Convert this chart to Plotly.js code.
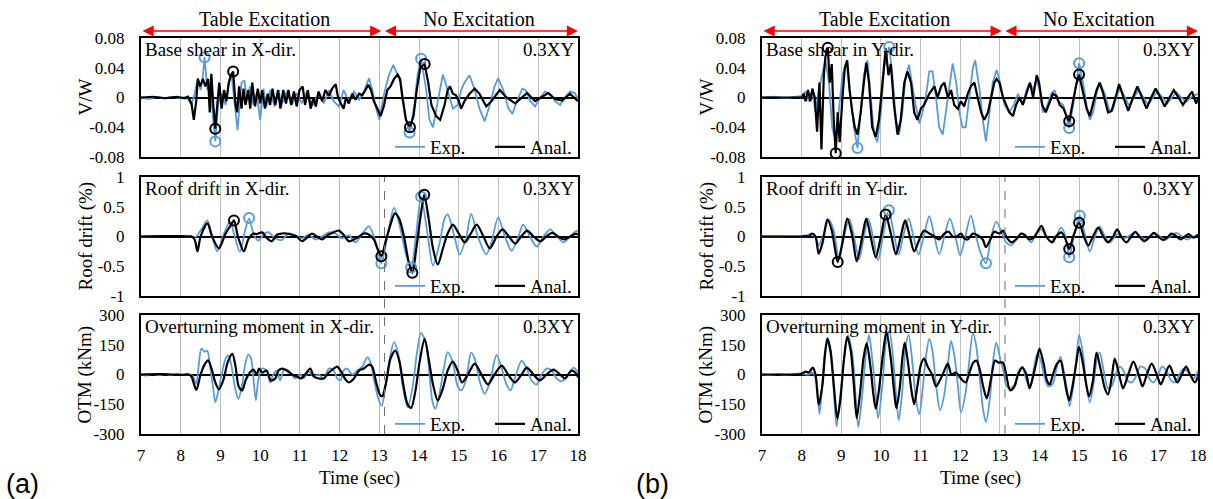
<!DOCTYPE html>
<html><head><meta charset="utf-8">
<script src="https://cdn.plot.ly/plotly-3.0.1.min.js"></script>
<style>html,body{margin:0;padding:0;background:#fff}#chart{width:1213px;height:499px}</style>
</head><body><div id="chart"></div><script>
// ---------- data (time [s], value) ----------
const timeTicks = [7,8,9,10,11,12,13,14,15,16,17,18];
const shearTicks = [-0.08,-0.04,0,0.04,0.08];
const shearTickText = ['-0.08','-0.04','0','0.04','0.08'];
const driftTicks = [-1,-0.5,0,0.5,1];
const driftTickText = ['-1','-0.5','0','0.5','1'];
const otmTicks = [-300,-150,0,150,300];
const otmTickText = ['-300','-150','0','150','300'];
const seriesNames = ['Exp.','Anal.'];

// (a) X-direction
const bsX_exp = [[7.0,0],[7.2,-0.002],[7.4,0.001],[7.6,-0.001],[7.8,0.001],[8.0,-0.001],[8.15,0.001],[8.27,-0.01],[8.35,0.005],[8.43,0.026],[8.5,0.01],[8.56,0.03],[8.6,0.054],[8.67,0.01],[8.73,0.02],[8.81,-0.02],[8.87,-0.059],[8.94,-0.01],[9.03,0.005],[9.13,-0.01],[9.21,0.02],[9.28,0.03],[9.36,-0.01],[9.43,-0.044],[9.53,0.02],[9.6,0.023],[9.68,-0.005],[9.74,0.015],[9.83,-0.01],[9.91,0.005],[10.0,-0.03],[10.08,0.012],[10.16,-0.012],[10.25,0.01],[10.36,-0.012],[10.46,0.01],[10.54,-0.01],[10.67,0.008],[10.8,-0.01],[10.92,0.006],[11.05,-0.008],[11.18,0.008],[11.3,-0.012],[11.47,0.005],[11.6,-0.008],[11.73,0.01],[11.85,-0.005],[11.98,-0.012],[12.1,0.01],[12.23,-0.005],[12.36,0.008],[12.49,-0.003],[12.61,0.008],[12.74,0.026],[12.82,0.01],[12.92,-0.015],[13.0,-0.03],[13.12,0.005],[13.24,0.03],[13.35,0.044],[13.46,0.03],[13.54,0.02],[13.67,-0.03],[13.76,-0.047],[13.88,-0.01],[13.96,0.03],[14.05,0.052],[14.18,0.01],[14.26,-0.03],[14.35,-0.04],[14.47,-0.005],[14.6,0.031],[14.72,0.01],[14.85,-0.015],[14.97,-0.01],[15.06,0.01],[15.14,0.02],[15.27,0.03],[15.4,0.01],[15.52,-0.015],[15.65,-0.032],[15.78,-0.01],[15.9,0.015],[15.99,0.026],[16.12,0.01],[16.25,-0.015],[16.35,-0.022],[16.46,-0.005],[16.6,0.012],[16.68,0.01],[16.8,-0.005],[16.92,-0.012],[17.05,0],[17.17,0.008],[17.3,0.005],[17.42,-0.005],[17.55,-0.01],[17.67,0],[17.8,0.008],[17.92,0.006],[18.0,-0.002]];
const bsX_anl = [[7.0,0],[7.3,0.001],[7.6,-0.001],[7.9,0.001],[8.1,-0.001],[8.18,0.001],[8.27,-0.008],[8.33,-0.03],[8.39,-0.005],[8.43,0.025],[8.49,0.015],[8.56,0.025],[8.62,0.015],[8.69,0.025],[8.73,-0.02],[8.77,0.032],[8.82,-0.01],[8.87,-0.042],[8.92,-0.01],[8.97,0.02],[9.03,-0.015],[9.09,0.01],[9.15,-0.005],[9.21,0.02],[9.26,0.03],[9.32,0.035],[9.38,-0.01],[9.42,-0.02],[9.47,0.015],[9.53,-0.015],[9.58,0.012],[9.63,-0.01],[9.7,0.01],[9.75,-0.015],[9.8,0.02],[9.87,-0.012],[9.94,0.012],[10.0,-0.008],[10.05,0.01],[10.12,-0.015],[10.19,0.005],[10.25,-0.01],[10.31,0.012],[10.38,-0.01],[10.45,0.01],[10.51,-0.015],[10.58,0.01],[10.65,-0.008],[10.71,0.01],[10.78,-0.01],[10.85,0.008],[10.92,-0.012],[10.99,0.01],[11.07,0.015],[11.13,-0.01],[11.2,0.01],[11.27,-0.015],[11.34,0],[11.4,-0.012],[11.47,0.008],[11.56,-0.005],[11.64,0.01],[11.73,0.002],[11.81,0.012],[11.9,0.018],[11.96,0],[12.03,-0.008],[12.1,-0.015],[12.16,0],[12.23,-0.008],[12.32,0.005],[12.4,-0.003],[12.49,0.005],[12.57,0.003],[12.65,0.01],[12.72,0.017],[12.79,0.01],[12.86,-0.005],[12.95,-0.015],[13.03,-0.025],[13.11,-0.012],[13.2,0.01],[13.28,0.015],[13.37,0.025],[13.46,0.031],[13.52,0.025],[13.58,0],[13.67,-0.03],[13.77,-0.04],[13.86,-0.025],[13.94,0.01],[14.03,0.04],[14.14,0.045],[14.23,0.02],[14.31,-0.01],[14.43,-0.025],[14.53,-0.03],[14.64,-0.01],[14.72,0.01],[14.78,0.015],[14.85,0.005],[14.93,0.003],[15.0,-0.005],[15.06,-0.015],[15.14,-0.005],[15.27,0.005],[15.4,0.012],[15.52,0.005],[15.69,-0.012],[15.82,-0.005],[16.03,0.01],[16.2,0],[16.42,-0.008],[16.55,-0.002],[16.72,0.006],[16.92,-0.005],[17.08,0],[17.25,0.006],[17.42,-0.002],[17.6,-0.004],[17.8,0.005],[17.97,-0.003],[18.0,-0.005]];
const bsX_expPeaks = [[8.6,0.054],[8.87,-0.059],[13.76,-0.047],[14.05,0.052]];
const bsX_anlPeaks = [[8.87,-0.042],[9.32,0.035],[13.77,-0.04],[14.14,0.045]];

const rdX_exp = [[7.0,0],[7.5,0.005],[8.0,0.005],[8.25,0],[8.39,0],[8.52,0.12],[8.67,0.27],[8.79,0],[8.92,-0.25],[9.09,0.05],[9.24,0.25],[9.36,0],[9.49,-0.26],[9.62,0.1],[9.72,0.3],[9.83,0.05],[9.95,-0.07],[10.11,0.05],[10.22,0.07],[10.36,-0.02],[10.54,-0.06],[10.71,0.05],[10.88,0.02],[11.05,-0.03],[11.22,0.03],[11.39,-0.05],[11.56,0],[11.73,0.07],[11.89,0.05],[12.06,-0.03],[12.23,0.02],[12.4,-0.1],[12.57,0.05],[12.74,0.17],[12.91,-0.1],[13.05,-0.45],[13.2,0],[13.37,0.48],[13.54,0.1],[13.67,-0.3],[13.8,-0.52],[13.92,0],[14.05,0.67],[14.2,0.1],[14.35,-0.49],[14.52,-0.1],[14.64,0.3],[14.72,0.37],[14.89,0],[15.02,-0.3],[15.19,0],[15.31,0.38],[15.48,0],[15.69,-0.3],[15.82,-0.1],[15.99,0.32],[16.16,0],[16.33,-0.24],[16.5,0],[16.62,0.2],[16.79,0],[16.96,-0.17],[17.13,0],[17.3,0.12],[17.47,0],[17.64,-0.1],[17.8,0],[17.97,0.1],[18.0,0.08]];
const rdX_anl = [[7.0,0],[7.5,0.005],[8.0,0.005],[8.2,0],[8.27,0],[8.35,-0.05],[8.42,-0.25],[8.5,0],[8.67,0.22],[8.79,0],[8.96,-0.2],[9.13,0.05],[9.27,0.2],[9.34,0.27],[9.44,0],[9.59,-0.25],[9.7,-0.05],[9.83,0.05],[9.91,0.04],[10.05,0.07],[10.16,-0.02],[10.29,-0.08],[10.42,0.03],[10.54,0.05],[10.67,0.05],[10.8,0.03],[10.92,0],[11.05,-0.08],[11.18,-0.02],[11.3,0.05],[11.43,0],[11.56,-0.05],[11.69,0.02],[11.81,0.06],[11.98,0.1],[12.11,0.02],[12.23,-0.08],[12.36,-0.05],[12.49,0],[12.61,0.05],[12.74,0.03],[12.86,-0.05],[12.95,-0.2],[13.05,-0.33],[13.15,-0.1],[13.28,0.2],[13.39,0.39],[13.5,0.3],[13.62,0],[13.73,-0.4],[13.83,-0.61],[13.93,-0.2],[14.05,0.4],[14.13,0.7],[14.24,0.3],[14.35,-0.2],[14.47,-0.47],[14.6,-0.2],[14.72,0.05],[14.85,0.2],[15.0,0.05],[15.15,-0.1],[15.3,0.05],[15.45,0.2],[15.62,0],[15.78,-0.2],[15.95,0],[16.1,0.12],[16.26,0],[16.42,-0.12],[16.57,0],[16.72,0.1],[16.88,0],[17.05,-0.08],[17.2,0],[17.35,0.06],[17.5,0],[17.65,-0.05],[17.8,0],[17.95,0.05],[18.0,0.03]];
const rdX_expPeaks = [[9.72,0.31],[13.05,-0.45],[13.8,-0.52],[14.05,0.67]];
const rdX_anlPeaks = [[9.34,0.27],[13.05,-0.33],[13.83,-0.61],[14.13,0.7]];

const otmX_exp = [[7.0,0],[7.15,-5],[7.3,3],[7.45,-4],[7.6,2],[7.75,-3],[7.9,4],[8.05,-2],[8.2,0],[8.31,-10],[8.39,-47],[8.45,40],[8.52,130],[8.6,115],[8.67,120],[8.73,50],[8.81,-60],[8.87,-140],[8.94,-90],[9.03,0],[9.13,80],[9.2,96],[9.28,40],[9.36,-60],[9.45,-123],[9.53,-70],[9.62,50],[9.7,100],[9.77,80],[9.83,-20],[9.89,-130],[9.95,-30],[10.04,30],[10.16,20],[10.25,-40],[10.33,0],[10.42,20],[10.5,-30],[10.59,20],[10.67,25],[10.76,10],[10.88,-20],[11.01,0],[11.09,-20],[11.22,15],[11.35,-10],[11.47,0],[11.6,-20],[11.73,30],[11.85,20],[11.94,-20],[12.02,-30],[12.1,20],[12.19,30],[12.32,0],[12.44,20],[12.57,40],[12.7,88],[12.78,60],[12.86,-20],[12.97,-120],[13.06,-157],[13.16,-50],[13.26,80],[13.37,163],[13.48,100],[13.58,-50],[13.71,-165],[13.84,-60],[13.94,100],[14.05,210],[14.18,150],[14.26,0],[14.34,-140],[14.41,-173],[14.51,-100],[14.64,50],[14.72,113],[14.85,60],[14.97,-60],[15.06,-80],[15.18,-30],[15.31,110],[15.4,80],[15.52,-30],[15.65,-98],[15.78,-40],[15.95,99],[16.08,30],[16.2,-50],[16.3,-80],[16.41,-20],[16.58,70],[16.71,30],[16.83,-30],[16.96,-50],[17.08,0],[17.21,30],[17.34,20],[17.46,-20],[17.59,-35],[17.76,0],[17.89,35],[18.0,10]];
const otmX_anl = [[7.0,0],[7.5,2],[8.0,-2],[8.2,0],[8.27,-10],[8.39,-78],[8.5,0],[8.6,50],[8.69,71],[8.79,20],[8.87,-40],[8.96,-75],[9.07,-30],[9.18,60],[9.3,104],[9.38,40],[9.46,-60],[9.55,-80],[9.63,-30],[9.74,10],[9.83,25],[9.91,0],[9.97,30],[10.05,10],[10.16,20],[10.27,-30],[10.38,-20],[10.46,20],[10.56,30],[10.67,20],[10.8,0],[10.92,-10],[11.03,-20],[11.13,0],[11.26,30],[11.35,-10],[11.47,-20],[11.6,-20],[11.73,10],[11.85,30],[11.94,40],[12.02,20],[12.13,-20],[12.23,-40],[12.36,-20],[12.49,20],[12.61,30],[12.74,50],[12.82,40],[12.92,-40],[13.01,-100],[13.07,-110],[13.17,-40],[13.28,80],[13.4,121],[13.5,70],[13.61,-60],[13.71,-150],[13.8,-168],[13.91,-80],[14.01,60],[14.14,180],[14.24,80],[14.35,-50],[14.47,-131],[14.6,-70],[14.72,20],[14.85,65],[14.97,20],[15.08,-40],[15.23,0],[15.4,55],[15.57,0],[15.73,-50],[15.9,0],[16.08,45],[16.24,0],[16.41,-40],[16.58,0],[16.71,35],[16.88,0],[17.04,-30],[17.21,0],[17.38,25],[17.55,0],[17.67,-20],[17.84,20],[17.97,0],[18.0,-15]];

// (b) Y-direction
const bsY_exp = [[7.0,0],[7.3,0.001],[7.6,-0.001],[7.9,0.001],[8.01,0.002],[8.1,0.008],[8.18,-0.005],[8.27,0.01],[8.35,-0.02],[8.43,0.01],[8.52,0.03],[8.6,0.05],[8.69,0.02],[8.77,-0.04],[8.86,-0.06],[8.94,-0.02],[9.03,0.03],[9.13,0.048],[9.24,0],[9.32,-0.04],[9.41,-0.068],[9.49,-0.02],[9.57,0.03],[9.66,0.05],[9.74,0],[9.83,-0.05],[9.91,-0.06],[10.0,-0.02],[10.08,0.04],[10.21,0.068],[10.29,0.03],[10.38,-0.03],[10.46,-0.05],[10.54,-0.02],[10.63,0.03],[10.71,0.044],[10.84,0],[10.97,-0.035],[11.05,-0.02],[11.13,0],[11.22,0.035],[11.3,0.035],[11.39,0],[11.47,-0.04],[11.56,-0.05],[11.64,-0.02],[11.73,0.02],[11.81,0.046],[11.9,0.02],[11.98,-0.02],[12.06,-0.04],[12.14,-0.04],[12.23,0],[12.32,0.04],[12.38,0.05],[12.49,0.01],[12.57,-0.03],[12.65,-0.059],[12.74,-0.02],[12.82,0.02],[12.92,0.037],[13.01,0.02],[13.12,-0.01],[13.24,-0.02],[13.35,-0.01],[13.46,0.005],[13.58,-0.01],[13.67,0.01],[13.76,0.02],[13.84,0.01],[13.93,0.025],[14.0,0.01],[14.09,-0.02],[14.17,-0.015],[14.3,0.005],[14.38,0.01],[14.47,-0.005],[14.6,-0.01],[14.68,-0.025],[14.75,-0.041],[14.85,-0.01],[14.93,0.02],[15.0,0.046],[15.1,0.02],[15.19,-0.01],[15.27,-0.03],[15.35,-0.02],[15.44,0.005],[15.52,0.02],[15.65,0.005],[15.78,-0.02],[15.86,-0.015],[15.96,0.005],[16.05,0.012],[16.16,0],[16.27,-0.012],[16.38,0],[16.5,0.01],[16.62,0],[16.74,-0.01],[16.86,0],[16.98,0.008],[17.1,0],[17.22,-0.008],[17.34,0],[17.46,0.007],[17.58,0],[17.7,-0.006],[17.82,0],[17.94,0.004],[18.0,0.005]];
const bsY_anl = [[7.0,0],[7.5,0],[8.01,0],[8.05,0.005],[8.1,-0.005],[8.16,0.01],[8.22,-0.005],[8.27,0.012],[8.33,0],[8.39,-0.046],[8.45,0.02],[8.5,-0.07],[8.56,0.03],[8.6,0.055],[8.66,0.067],[8.71,0.02],[8.76,0.045],[8.81,-0.03],[8.86,-0.075],[8.91,-0.02],[8.96,-0.06],[9.03,0],[9.09,0.04],[9.15,0.05],[9.21,0.01],[9.28,-0.02],[9.34,-0.04],[9.41,-0.05],[9.49,-0.02],[9.57,0.02],[9.63,0.047],[9.7,0.02],[9.78,-0.04],[9.87,-0.053],[9.95,-0.03],[10.04,0.02],[10.12,0.066],[10.19,0.03],[10.25,0.045],[10.33,-0.01],[10.42,-0.05],[10.5,-0.03],[10.59,0.02],[10.67,0.035],[10.76,0.02],[10.84,-0.02],[10.92,-0.03],[11.01,-0.015],[11.09,-0.01],[11.22,0.005],[11.35,0.015],[11.43,0],[11.52,0.015],[11.6,0.02],[11.69,0],[11.77,0.01],[11.85,-0.01],[11.94,-0.015],[12.02,-0.005],[12.1,-0.012],[12.19,0.005],[12.27,0.015],[12.36,0.02],[12.44,0],[12.53,-0.02],[12.61,-0.03],[12.7,-0.02],[12.78,0],[12.86,0.02],[12.92,0.025],[12.99,0.02],[13.08,0],[13.16,-0.01],[13.24,-0.02],[13.33,-0.025],[13.41,-0.01],[13.5,0],[13.58,-0.01],[13.67,0.005],[13.76,0.02],[13.84,0],[13.93,0.03],[13.99,0.02],[14.07,-0.01],[14.16,-0.02],[14.26,-0.005],[14.34,0.005],[14.43,0.002],[14.51,-0.01],[14.61,-0.015],[14.68,-0.025],[14.75,-0.032],[14.83,-0.01],[14.92,0.015],[15.0,0.031],[15.08,0.01],[15.19,-0.015],[15.27,-0.025],[15.35,-0.01],[15.44,0.01],[15.52,0.02],[15.61,0.005],[15.73,-0.02],[15.82,-0.018],[15.92,0],[16.01,0.018],[16.12,0],[16.24,-0.018],[16.36,0],[16.47,0.015],[16.59,0],[16.7,-0.015],[16.82,0],[16.93,0.012],[17.05,0],[17.16,-0.012],[17.28,0],[17.39,0.01],[17.51,0],[17.62,-0.01],[17.74,0],[17.85,0.008],[17.95,-0.008],[18.0,-0.002]];
const bsY_expPeaks = [[9.41,-0.068],[10.21,0.068],[14.75,-0.041],[15.0,0.046]];
const bsY_anlPeaks = [[8.66,0.067],[8.86,-0.075],[14.75,-0.032],[15.0,0.031]];

const rdY_exp = [[7.0,0],[7.5,0],[8.0,0],[8.1,0.01],[8.27,0.05],[8.37,-0.05],[8.43,-0.15],[8.56,0.05],[8.69,0.28],[8.81,0.1],[8.94,-0.38],[9.07,0],[9.2,0.3],[9.32,0],[9.45,-0.38],[9.57,0],[9.68,0.3],[9.8,0],[9.93,-0.4],[10.05,0],[10.2,0.44],[10.31,0.1],[10.45,-0.3],[10.56,0],[10.7,0.3],[10.82,0],[10.95,-0.3],[11.08,0],[11.22,0.34],[11.35,0],[11.47,-0.3],[11.6,0],[11.74,0.3],[11.88,0],[12.0,-0.32],[12.13,0],[12.27,0.35],[12.4,0],[12.53,-0.3],[12.65,-0.45],[12.78,0],[12.91,0.25],[13.03,0.1],[13.16,-0.1],[13.29,-0.15],[13.41,-0.05],[13.54,0.05],[13.67,0],[13.79,-0.1],[13.92,0.05],[14.05,0.12],[14.17,0],[14.3,-0.08],[14.43,0.02],[14.55,0.15],[14.66,0],[14.75,-0.35],[14.87,0],[15.02,0.35],[15.14,0.05],[15.27,-0.25],[15.4,0],[15.52,0.17],[15.65,0],[15.78,-0.1],[15.9,0],[15.99,0.05],[16.12,-0.03],[16.24,0],[16.41,0.07],[16.54,0],[16.67,-0.05],[16.79,0],[16.92,0.06],[17.04,0],[17.17,-0.06],[17.29,0],[17.46,0.06],[17.59,0],[17.72,-0.05],[17.89,0],[18.0,0.03]];
const rdY_anl = [[7.0,0],[7.5,0],[8.01,0],[8.1,0.01],[8.18,0],[8.27,0.05],[8.35,0],[8.43,-0.29],[8.53,-0.1],[8.65,0.29],[8.76,0.1],[8.84,-0.2],[8.91,-0.43],[9.03,-0.1],[9.15,0.3],[9.28,0],[9.39,-0.42],[9.53,0],[9.63,0.3],[9.74,0],[9.87,-0.35],[10.0,0],[10.12,0.37],[10.25,0.05],[10.38,-0.3],[10.5,0],[10.61,0.27],[10.73,0],[10.84,-0.25],[10.97,-0.05],[11.09,0.1],[11.22,0.05],[11.35,0],[11.47,-0.05],[11.6,0.05],[11.71,0.08],[11.81,0],[11.91,0],[12.02,0.05],[12.1,-0.03],[12.19,-0.05],[12.32,0.05],[12.44,0.02],[12.57,-0.05],[12.65,-0.18],[12.76,-0.05],[12.86,0.08],[12.99,0.05],[13.08,0.1],[13.16,0],[13.29,-0.1],[13.41,-0.05],[13.54,0.05],[13.62,0.03],[13.75,-0.05],[13.88,0],[14.05,0.18],[14.17,0],[14.32,-0.1],[14.42,0],[14.55,0.07],[14.66,-0.05],[14.75,-0.21],[14.85,0],[15.0,0.23],[15.12,0],[15.23,-0.15],[15.35,0],[15.48,0.15],[15.61,0],[15.73,-0.1],[15.86,0],[15.96,0.12],[16.06,0],[16.19,-0.1],[16.32,0],[16.42,0.08],[16.52,0],[16.65,-0.08],[16.79,0],[16.88,0.06],[16.99,0],[17.12,-0.06],[17.25,0],[17.33,0.05],[17.46,0],[17.56,-0.05],[17.67,0],[17.76,0.04],[17.89,-0.02],[18.0,0.03]];
const rdY_expPeaks = [[10.2,0.44],[12.65,-0.45],[14.75,-0.35],[15.02,0.35]];
const rdY_anlPeaks = [[8.91,-0.43],[10.12,0.37],[14.75,-0.21],[15.0,0.23]];

const otmY_exp = [[7.0,0],[7.2,-3],[7.4,2],[7.6,-3],[7.8,2],[8.01,5],[8.18,0],[8.27,10],[8.37,-30],[8.45,-200],[8.52,-50],[8.59,120],[8.65,160],[8.73,100],[8.81,-80],[8.88,-262],[8.98,-100],[9.07,80],[9.17,197],[9.28,100],[9.36,-100],[9.43,-265],[9.53,-100],[9.62,100],[9.7,200],[9.78,80],[9.87,-100],[9.93,-220],[10.04,-50],[10.12,150],[10.21,220],[10.29,120],[10.38,-100],[10.45,-230],[10.54,-80],[10.63,150],[10.7,200],[10.8,50],[10.88,-120],[10.97,-200],[11.05,-80],[11.13,80],[11.22,180],[11.3,120],[11.39,-50],[11.49,-180],[11.6,-100],[11.69,50],[11.77,170],[11.85,100],[11.94,-50],[12.02,-190],[12.13,-100],[12.22,50],[12.32,210],[12.4,150],[12.5,-30],[12.58,-180],[12.65,-240],[12.76,-100],[12.82,50],[12.91,160],[13.01,80],[13.1,10],[13.17,-60],[13.26,-70],[13.37,-50],[13.48,20],[13.57,40],[13.67,-30],[13.77,-60],[13.85,20],[13.94,100],[14.02,80],[14.11,0],[14.22,-60],[14.33,-50],[14.43,30],[14.53,90],[14.61,20],[14.7,-80],[14.76,-160],[14.86,-50],[14.93,80],[15.0,200],[15.1,100],[15.18,-50],[15.27,-140],[15.37,-40],[15.45,80],[15.52,110],[15.62,20],[15.73,-70],[15.82,-60],[15.94,10],[16.03,40],[16.12,20],[16.22,-30],[16.33,-40],[16.46,0],[16.54,40],[16.67,30],[16.77,-20],[16.88,-40],[17.0,0],[17.09,40],[17.2,20],[17.32,-30],[17.42,-40],[17.53,0],[17.63,30],[17.76,10],[17.89,-20],[18.0,20]];
const otmY_anl = [[7.0,0],[7.5,0],[7.93,0],[8.01,5],[8.1,15],[8.18,10],[8.28,35],[8.35,0],[8.43,-152],[8.52,-60],[8.59,100],[8.65,182],[8.73,120],[8.81,-50],[8.9,-222],[8.98,-120],[9.07,80],[9.15,190],[9.24,120],[9.32,-60],[9.39,-220],[9.47,-100],[9.56,80],[9.64,157],[9.73,50],[9.81,-100],[9.87,-172],[9.95,-80],[10.05,100],[10.14,216],[10.25,80],[10.33,-80],[10.39,-170],[10.48,-60],[10.54,80],[10.6,160],[10.69,50],[10.77,-80],[10.84,-150],[10.92,-60],[11.01,50],[11.09,80],[11.18,40],[11.29,0],[11.39,-60],[11.51,-20],[11.6,20],[11.69,55],[11.78,0],[11.89,10],[11.98,-10],[12.06,-30],[12.14,-40],[12.25,20],[12.33,60],[12.41,70],[12.5,20],[12.58,-60],[12.67,-120],[12.78,-20],[12.88,70],[12.97,60],[13.08,60],[13.16,0],[13.26,-80],[13.37,-60],[13.46,0],[13.57,35],[13.67,0],[13.75,-70],[13.85,0],[13.92,60],[14.0,130],[14.11,50],[14.19,-30],[14.26,-50],[14.34,0],[14.43,50],[14.53,70],[14.61,0],[14.68,-80],[14.75,-130],[14.85,-40],[14.93,60],[15.0,140],[15.1,50],[15.18,-50],[15.25,-110],[15.35,-30],[15.44,110],[15.54,30],[15.65,-70],[15.73,-100],[15.82,-20],[15.9,80],[16.01,0],[16.11,-70],[16.24,0],[16.37,65],[16.5,0],[16.6,-60],[16.71,0],[16.83,55],[16.96,0],[17.06,-50],[17.17,0],[17.28,45],[17.38,0],[17.48,-40],[17.59,0],[17.7,40],[17.8,0],[17.92,-40],[18.0,-10]];

// ---------- build ----------
const BLUE = '#5B9BD5', BLACK = '#000000';
const SERIF = 'Liberation Serif, Times New Roman, serif';
const W = 1213, H = 499;
const colX = [[141/W, 578/W], [762/W, 1198/W]];
const rowY = [[1-157/H, 1-38/H], [1-296/H, 1-177/H], [1-434/H, 1-315/H]];

const panels = [
  {exp: bsX_exp, anl: bsX_anl, ep: bsX_expPeaks, ap: bsX_anlPeaks, col:0, row:0, shape:'linear', range:[-0.08,0.08], tv:shearTicks, tt:shearTickText, label:'Base shear in X-dir.', ytitle:'V/W'},
  {exp: rdX_exp, anl: rdX_anl, ep: rdX_expPeaks, ap: rdX_anlPeaks, col:0, row:1, shape:'spline', range:[-1,1], tv:driftTicks, tt:driftTickText, label:'Roof drift in X-dir.', ytitle:'Roof drift (%)'},
  {exp: otmX_exp, anl: otmX_anl, ep: [], ap: [], col:0, row:2, shape:'spline', range:[-300,300], tv:otmTicks, tt:otmTickText, label:'Overturning moment in X-dir.', ytitle:'OTM (kNm)'},
  {exp: bsY_exp, anl: bsY_anl, ep: bsY_expPeaks, ap: bsY_anlPeaks, col:1, row:0, shape:'linear', range:[-0.08,0.08], tv:shearTicks, tt:shearTickText, label:'Base shear in Y-dir.', ytitle:'V/W'},
  {exp: rdY_exp, anl: rdY_anl, ep: rdY_expPeaks, ap: rdY_anlPeaks, col:1, row:1, shape:'spline', range:[-1,1], tv:driftTicks, tt:driftTickText, label:'Roof drift in Y-dir.', ytitle:'Roof drift (%)'},
  {exp: otmY_exp, anl: otmY_anl, ep: [], ap: [], col:1, row:2, shape:'spline', range:[-300,300], tv:otmTicks, tt:otmTickText, label:'Overturning moment in Y-dir.', ytitle:'OTM (kNm)'}
];

const traces = [];
const layout = {
  width: W, height: H, margin:{l:0,r:0,t:0,b:0,pad:0},
  paper_bgcolor:'#fff', plot_bgcolor:'#fff', showlegend:true,
  font:{family:SERIF, size:17, color:'#000'},
  annotations:[], shapes:[]
};
const legendY = [1-147/H, 1-286/H, 1-424/H];
const legendX = [590/W, 1210/W];
const ytitleX = [85/W, 706/W];

panels.forEach((p, i) => {
  const n = i + 1;
  const xa = n === 1 ? 'x' : 'x' + n, ya = n === 1 ? 'y' : 'y' + n;
  const xk = n === 1 ? 'xaxis' : 'xaxis' + n, yk = n === 1 ? 'yaxis' : 'yaxis' + n;
  const lg = n === 1 ? 'legend' : 'legend' + n;
  layout[xk] = {domain: colX[p.col], anchor: ya, range:[7,18], tickvals: timeTicks, ticktext: timeTicks.map(String),
    showticklabels: p.row === 2, showgrid:true, gridcolor:'#BFBFBF', gridwidth:1, zeroline:false,
    showline:true, mirror:true, linecolor:'#000', linewidth:2, ticks:'', ticklabelstandoff: 5,
    tickfont:{family:SERIF, size:17}, fixedrange:true};
  layout[yk] = {domain: rowY[p.row], anchor: xa, range: p.range, tickvals: p.tv, ticktext: p.tt,
    showgrid:false, zeroline:true, zerolinecolor:'#000', zerolinewidth:2,
    showline:true, mirror:true, linecolor:'#000', linewidth:2, ticks:'', ticklabelstandoff: 11,
    tickfont:{family:SERIF, size:17}, fixedrange:true};
  layout[lg] = {x: legendX[p.col], xanchor:'right', y: legendY[p.row], yanchor:'middle', orientation:'h',
    bgcolor:'rgba(0,0,0,0)', borderwidth:0, font:{family:SERIF, size:19, color:'#000'}, itemwidth:30,
    entrywidth: 55, entrywidthmode:'pixels'};
  traces.push({x: p.exp.map(d=>d[0]), y: p.exp.map(d=>d[1]), xaxis: xa, yaxis: ya, type:'scatter', mode:'lines',
    name: seriesNames[0], legend: lg, line:{color: BLUE, width:1.8, shape: p.shape, smoothing: 0.8}, hoverinfo:'skip'});
  traces.push({x: p.anl.map(d=>d[0]), y: p.anl.map(d=>d[1]), xaxis: xa, yaxis: ya, type:'scatter', mode:'lines',
    name: seriesNames[1], legend: lg, line:{color: BLACK, width:2.2, shape: p.shape, smoothing: 0.8}, hoverinfo:'skip'});
  if (p.ep.length) traces.push({x: p.ep.map(d=>d[0]), y: p.ep.map(d=>d[1]), xaxis: xa, yaxis: ya, type:'scatter', mode:'markers',
    showlegend:false, cliponaxis:false, marker:{symbol:'circle-open', size:10, color: BLUE, line:{width:2, color: BLUE}}, hoverinfo:'skip'});
  if (p.ap.length) traces.push({x: p.ap.map(d=>d[0]), y: p.ap.map(d=>d[1]), xaxis: xa, yaxis: ya, type:'scatter', mode:'markers',
    showlegend:false, cliponaxis:false, marker:{symbol:'circle-open', size:10, color: BLACK, line:{width:2, color: BLACK}}, hoverinfo:'skip'});
  // in-panel labels
  layout.annotations.push({xref: xa + ' domain', yref: ya + ' domain', x: 0.004, y: 0.9, xanchor:'left', yanchor:'middle',
    text: p.label, showarrow:false, font:{family:SERIF, size:19}});
  layout.annotations.push({xref: xa + ' domain', yref: ya + ' domain', x: 0.996, y: 0.9, xanchor:'right', yanchor:'middle',
    text: '0.3XY', showarrow:false, font:{family:SERIF, size:19}});
  // y-axis title
  layout.annotations.push({xref:'paper', yref:'paper', x: ytitleX[p.col], y: (rowY[p.row][0]+rowY[p.row][1])/2,
    text: p.ytitle, textangle:-90, showarrow:false, xanchor:'center', yanchor:'middle', font:{family:SERIF, size:19}});
  // end of excitation marker (drift and OTM panels)
  if (p.row === 1) layout.shapes.push({type:'line', xref: xa, yref:'paper', x0:13.13, x1:13.13, y0: rowY[2][0], y1: rowY[1][1],
    line:{color:'#6E6E6E', width:1, dash:'dash'}, layer:'above'});
});

// top arrows and labels, x-axis titles, panel tags
const arrowY = 1 - 31/H;
[['x', 0], ['x4', 1]].forEach(([xa, c]) => {
  layout.annotations.push({xref: xa, yref:'paper', x: 13.05, y: arrowY, axref: xa, ax: 7, ayref:'pixel', ay: 0, text:'',
    showarrow:true, arrowhead:2, startarrowhead:2, arrowside:'end+start', arrowsize:1.6, startarrowsize:1.6, arrowwidth:1.4, arrowcolor:'#FF0000', standoff:0, startstandoff:0});
  layout.annotations.push({xref: xa, yref:'paper', x: 18, y: arrowY, axref: xa, ax: 13.1, ayref:'pixel', ay: 0, text:'',
    showarrow:true, arrowhead:2, startarrowhead:2, arrowside:'end+start', arrowsize:1.6, startarrowsize:1.6, arrowwidth:1.4, arrowcolor:'#FF0000', standoff:0, startstandoff:0});
  layout.annotations.push({xref: xa, yref:'paper', x: 10.1, y: 1-19/H, text:'Table Excitation', showarrow:false,
    xanchor:'center', yanchor:'middle', font:{family:SERIF, size:20}});
  layout.annotations.push({xref: xa, yref:'paper', x: 15.5, y: 1-19/H, text:'No Excitation', showarrow:false,
    xanchor:'center', yanchor:'middle', font:{family:SERIF, size:20}});
  layout.annotations.push({xref: xa, yref:'paper', x: 12.5, y: 1-478/H, text:'Time (sec)', showarrow:false,
    xanchor:'center', yanchor:'middle', font:{family:SERIF, size:19}});
});
layout.annotations.push({xref:'paper', yref:'paper', x: 22/W, y: 1-484/H, text:'(a)', showarrow:false,
  xanchor:'center', yanchor:'middle', font:{family:'Liberation Sans, Arial, sans-serif', size:27}});
layout.annotations.push({xref:'paper', yref:'paper', x: 652/W, y: 1-484/H, text:'(b)', showarrow:false,
  xanchor:'center', yanchor:'middle', font:{family:'Liberation Sans, Arial, sans-serif', size:27}});

Plotly.newPlot('chart', traces, layout, {staticPlot:true, displayModeBar:false});
</script></body></html>
